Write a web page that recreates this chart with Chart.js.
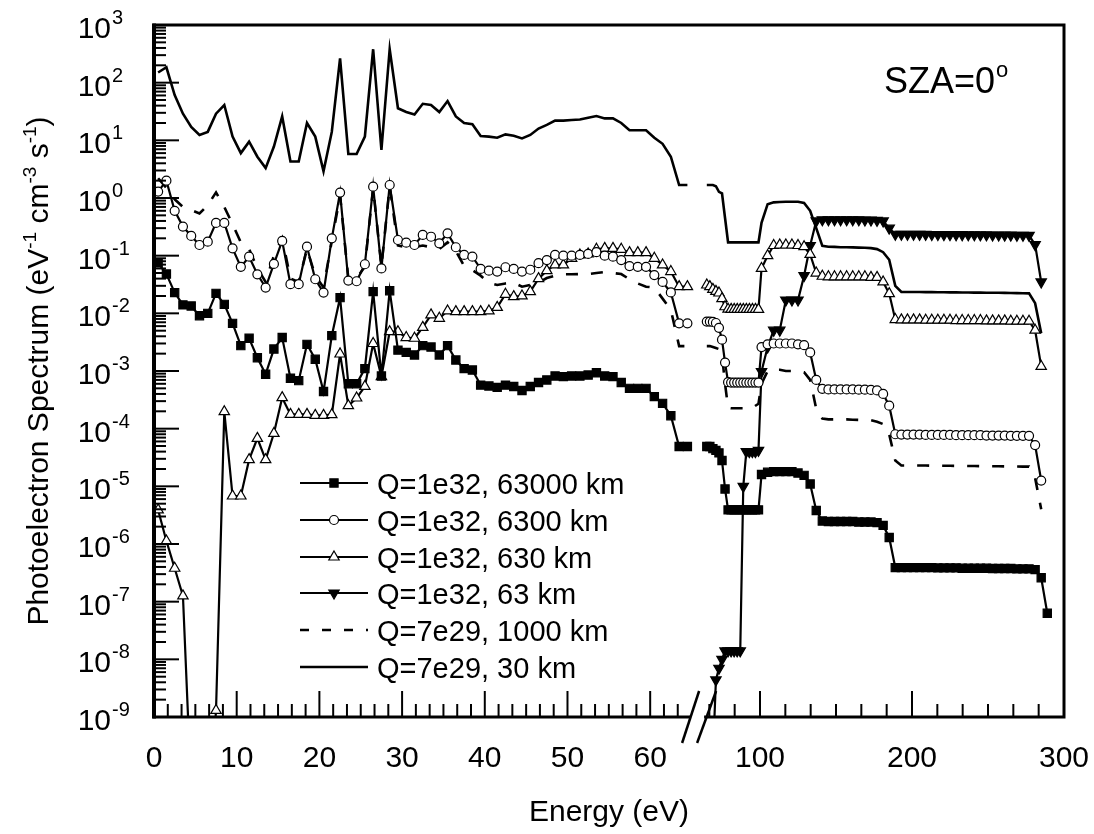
<!DOCTYPE html>
<html><head><meta charset="utf-8">
<script src="https://cdn.jsdelivr.net/npm/chart.js@4/dist/chart.umd.min.js"></script>
<style>html,body{margin:0;padding:0;background:#fff}canvas{display:block}</style>
</head><body>
<canvas id="c" width="1094" height="834"></canvas>
<script>
// ---------- DATA ----------
const seriesLabels = ['Q=1e32, 63000 km','Q=1e32, 6300 km','Q=1e32, 630 km','Q=1e32, 63 km','Q=7e29, 1000 km','Q=7e29, 30 km'];
const xTickLabels = [0,10,20,30,40,50,60,100,200,300];
const yTickExponents = [3,2,1,0,-1,-2,-3,-4,-5,-6,-7,-8,-9];

// energy grids (eV)
const energyLow = [0.5,1.5,2.5,3.5,4.5,5.5,6.5,7.5,8.5,9.5,10.5,11.5,12.5,13.5,14.5,15.5,16.5,17.5,18.5,19.5,
 20.5,21.5,22.5,23.5,24.5,25.5,26.5,27.5,28.5,29.5,30.5,31.5,32.5,33.5,34.5,35.5,36.5,37.5,38.5,39.5,
 40.5,41.5,42.5,43.5,44.5,45.5,46.5,47.5,48.5,49.5,50.5,51.5,52.5,53.5,54.5,55.5,56.5,57.5,58.5,59.5,
 60.5,61.5,62.5,63.5,64.5];
const energyMid = [65,67,69,71,73,75,77,79,81,83,85,87,89,91,93,95,97,99];
const energyHigh = [101,105,109,113,117,121,125,129,133,137,141,145,149,153,157,161,165,169,173,177,181,185,189,
 193,197,201,205,209,213,217,221,225,229,233,237,241,245,249,253,257,261,265,269,273,277,281,285,289];

// Q=1e32, 63000 km (filled squares)
const sq63000Low = [0.075,0.048,0.0229,0.014,0.0134,0.0091,0.01,0.0222,0.0143,0.0067,
 0.00275,0.0037,0.0017,0.00088,0.0024,0.0038,0.00075,0.00068,0.0029,0.0016,
 0.00044,0.0041,0.0187,0.0006,0.0006,0.0011,0.0238,0.00082,0.0247,0.0023,
 0.0021,0.0019,0.00275,0.0026,0.0019,0.00275,0.00155,0.0011,0.00104,0.00057,
 0.00055,0.00052,0.00057,0.00054,0.00046,0.00054,0.00063,0.0007,0.00082,0.0008,
 0.00082,0.00082,0.00085,0.00093,0.00082,0.0008,0.00063,0.0005,0.0005,0.0005,
 0.00036,0.000275,0.000168,0.000049,0.000049];
const sq63000Mid = [4.9e-5,4.9e-5,4.5e-5,4.2e-5,3.8e-5,2.8e-5,9e-6,3.9e-6,3.9e-6,3.9e-6,3.9e-6,3.9e-6,3.9e-6,3.9e-6,3.9e-6,3.9e-6,3.9e-6,3.9e-6];
const sq63000High = [1.6e-5,1.75e-5,1.8e-5,1.8e-5,1.8e-5,1.8e-5,1.7e-5,1.55e-5,1.1e-5,3.8e-6,2.5e-6,2.45e-6,2.45e-6,2.45e-6,2.45e-6,2.45e-6,2.4e-6,2.4e-6,2.4e-6,2.35e-6,2.1e-6,1.3e-6,3.9e-7,
 3.9e-7,3.9e-7,3.9e-7,3.9e-7,3.9e-7,3.9e-7,3.85e-7,3.85e-7,3.85e-7,3.85e-7,3.8e-7,3.8e-7,3.8e-7,3.8e-7,3.8e-7,3.75e-7,3.75e-7,3.75e-7,3.75e-7,3.7e-7,3.7e-7,3.7e-7,3.6e-7,2.6e-7,6.3e-8];

// Q=1e32, 6300 km (open circles)
const ci6300Low = [1.29,2.0,0.6,0.32,0.22,0.153,0.175,0.37,0.37,0.134,
 0.064,0.096,0.0475,0.028,0.072,0.18,0.032,0.032,0.143,0.039,
 0.0229,0.2,1.24,0.037,0.036,0.071,1.57,0.06,1.68,0.187,
 0.168,0.153,0.229,0.213,0.164,0.244,0.14,0.103,0.096,0.059,
 0.055,0.053,0.063,0.059,0.053,0.057,0.074,0.084,0.103,0.1,
 0.1,0.103,0.107,0.115,0.1,0.096,0.084,0.066,0.064,0.064,
 0.046,0.035,0.023,0.0067,0.0067];
const ci6300Mid = [0.0072,0.0072,0.0071,0.0068,0.0056,0.0035,0.0014,0.00064,0.00063,0.00063,0.00063,0.00063,0.00063,0.00063,0.00063,0.00063,0.00063,0.00063];
const ci6300High = [0.0026,0.0029,0.003,0.003,0.003,0.003,0.0029,0.0028,0.0021,0.0007,0.00049,0.00048,0.00048,0.00048,0.00048,0.00048,0.000475,0.000475,0.00047,0.00046,0.0004,0.00025,0.00008,
 7.9e-5,7.9e-5,7.9e-5,7.9e-5,7.8e-5,7.8e-5,7.8e-5,7.8e-5,7.8e-5,7.7e-5,7.7e-5,7.7e-5,7.7e-5,7.7e-5,7.6e-5,7.6e-5,7.6e-5,7.6e-5,7.5e-5,7.5e-5,7.5e-5,7.5e-5,5.2e-5,1.26e-5];

// Q=1e32, 630 km (open triangles)
const tr630Low = [3.9e-6,1.13e-6,3.8e-7,1.26e-7,5e-11,1e-12,1e-11,1.3e-9,1.97e-4,6.8e-6,
 6.8e-6,2.9e-5,6.8e-5,2.9e-5,8.3e-5,3.45e-4,1.77e-4,1.77e-4,1.77e-4,1.7e-4,
 1.7e-4,1.75e-4,0.00197,2.5e-4,3.4e-4,5.4e-4,0.003,8.0e-4,0.0048,0.0048,
 0.0038,0.0037,0.0057,0.0094,0.0082,0.011,0.0107,0.0107,0.0107,0.0107,
 0.011,0.0127,0.0214,0.0195,0.02,0.0238,0.04,0.055,0.069,0.069,
 0.09,0.103,0.107,0.129,0.134,0.134,0.129,0.113,0.113,0.113,
 0.09,0.069,0.053,0.029,0.029];
const tr630Mid = [0.031,0.029,0.026,0.024,0.0225,0.018,0.013,0.0118,0.0117,0.0117,0.0117,0.0117,0.0117,0.0117,0.0117,0.0117,0.0117,0.0117];
const tr630High = [0.06,0.1,0.15,0.153,0.153,0.153,0.15,0.143,0.105,0.05,0.044,0.043,0.043,0.043,0.043,0.043,0.043,0.043,0.042,0.042,0.035,0.022,0.0078,
 0.0077,0.0077,0.0077,0.0077,0.0076,0.0076,0.0076,0.0076,0.0076,0.0075,0.0075,0.0075,0.0075,0.0075,0.0074,0.0074,0.0074,0.0074,0.0073,0.0073,0.0073,0.0073,0.0051,0.0012];

// Q=1e32, 63 km (filled inverted triangles)
const td63Mid = [null,1e-11,2e-10,4.4e-9,7e-9,1e-8,1.4e-8,1.4e-8,1.4e-8,1.4e-8,1.4e-8,1.4e-8,1e-5,4e-5,4e-5,4e-5,4e-5,4.2e-5];
const td63High = [9.8e-4,0.0026,0.0051,0.0051,0.017,0.017,0.017,0.045,0.15,0.4,0.42,0.42,0.42,0.42,0.42,0.42,0.42,0.415,0.415,0.41,0.4,0.3,0.235,
 0.235,0.235,0.235,0.234,0.234,0.233,0.233,0.232,0.232,0.231,0.231,0.23,0.23,0.229,0.229,0.228,0.228,0.227,0.227,0.226,0.226,0.225,0.155,0.035];

// Q=7e29, 1000 km (dashed)
const da1000Low = [2.2,1.5,0.95,0.7,0.62,0.54,0.75,1.25,0.7,0.35,
 0.17,0.13,0.06,0.035,0.1,0.2,0.04,0.035,0.13,0.045,
 0.028,0.18,1.1,0.04,0.04,0.065,1.5,0.065,1.6,0.15,
 0.14,0.14,0.15,0.14,0.13,0.17,0.12,0.066,0.056,0.045,
 0.034,0.031,0.033,0.034,0.029,0.031,0.034,0.041,0.045,0.0475,
 0.0475,0.048,0.048,0.05,0.052,0.05,0.048,0.039,0.033,0.029,
 0.028,0.018,0.0115,0.0027,0.0027];
const da1000Mid = [0.0027,0.0027,0.0026,0.0025,0.0024,0.0019,0.0006,0.00023,0.000226,0.000226,0.000226,0.000226,0.000226,0.000226,0.000226,0.00023,0.00025,0.00027];
const da1000High = [0.0006,0.001,0.00105,0.00105,0.001,0.001,0.00098,0.00095,0.0007,0.00022,0.00015,0.000145,0.000145,0.000145,0.000145,0.000143,0.000142,0.000141,0.00014,0.000132,0.00012,0.00008,0.000028,
 2.3e-5,2.3e-5,2.3e-5,2.3e-5,2.3e-5,2.28e-5,2.28e-5,2.27e-5,2.27e-5,2.26e-5,2.26e-5,2.25e-5,2.25e-5,2.24e-5,2.24e-5,2.23e-5,2.23e-5,2.22e-5,2.22e-5,2.21e-5,2.2e-5,2.2e-5,1.4e-5,4e-6];

// Q=7e29, 30 km (solid)
const so30Low = [150,185,61,29,17,12.4,14,29,41,11.6,
 6.0,9.5,5.2,3.3,7.8,26,4.3,4.3,20,11.6,
 2.9,14,264,5.8,5.8,11.6,380,6.8,380,36,
 31,28,43,41,31,48,26,20,19,11.9,
 11.6,11.1,12.7,12,10.8,12.4,16,18.5,22,22,
 22.5,23,24.7,26.4,24,24,20,15,15,15,
 11.1,8.7,5.2,1.68,1.68];
const so30Mid = [1.68,1.68,1.68,1.6,1.28,1.2,0.45,0.17,0.17,0.17,0.17,0.17,0.17,0.17,0.17,0.17,0.17,0.17];
const so30High = [0.37,0.78,0.84,0.85,0.86,0.86,0.86,0.82,0.6,0.3,0.148,0.143,0.142,0.14,0.14,0.139,0.138,0.137,0.135,0.13,0.115,0.085,0.03,
 0.0235,0.0235,0.0234,0.0234,0.0233,0.0233,0.0232,0.0232,0.0231,0.0231,0.023,0.023,0.0229,0.0229,0.0228,0.0228,0.0227,0.0226,0.0225,0.0224,0.0223,0.0222,0.015,0.0045];

// ---------- broken x axis mapping ----------
const BREAK_E = 65, BREAK_GAP = 1.847, RIGHT_RATIO = 0.1838;
const axisLeft = e => e;
const axisRight = e => BREAK_E + BREAK_GAP + (e - BREAK_E) * RIGHT_RATIO;
const X_MAX = axisRight(300);

function buildPoints(low, mid, high) {
  const pts = [];
  if (low) energyLow.forEach((e, i) => pts.push({x: axisLeft(e), y: low[i]}));
  pts.push({x: (axisLeft(64.5) + axisRight(65)) / 2, y: null});
  energyMid.forEach((e, i) => pts.push({x: axisRight(e), y: mid[i]}));
  energyHigh.forEach((e, i) => pts.push({x: axisRight(e), y: high[i]}));
  return pts;
}

const styles = [
  {pointStyle:'rect', radius:5.8, rotation:0, fill:'#000', dash:[], lw:2.2},
  {pointStyle:'circle', radius:4.5, rotation:0, fill:'#fff', dash:[], lw:2.2},
  {pointStyle:'triangle', radius:6, rotation:0, fill:'#fff', dash:[], lw:2.2},
  {pointStyle:'triangle', radius:6, rotation:180, fill:'#000', dash:[], lw:2.2},
  {pointStyle:false, radius:0, rotation:0, fill:'#000', dash:[12,13], lw:2.6},
  {pointStyle:false, radius:0, rotation:0, fill:'#000', dash:[], lw:2.6}
];
const seriesData = [
  buildPoints(sq63000Low, sq63000Mid, sq63000High),
  buildPoints(ci6300Low, ci6300Mid, ci6300High),
  buildPoints(tr630Low, tr630Mid, tr630High),
  buildPoints(null, td63Mid, td63High),
  buildPoints(da1000Low, da1000Mid, da1000High),
  buildPoints(so30Low, so30Mid, so30High)
];

const datasets = seriesData.map((d, i) => ({
  label: seriesLabels[i],
  data: d,
  borderColor: '#000',
  borderWidth: styles[i].lw,
  borderDash: styles[i].dash,
  pointStyle: styles[i].pointStyle || 'circle',
  pointRadius: styles[i].radius,
  pointRotation: styles[i].rotation,
  pointBackgroundColor: styles[i].fill,
  pointBorderColor: '#000',
  pointBorderWidth: 1.2,
  fill: false,
  tension: 0,
  spanGaps: false
}));

const FONT = '"Liberation Sans", Arial, Helvetica, sans-serif';

function supText(ctx, x, y, parts, mainSize, supSize, rise) {
  let cx = x;
  for (const [t, sup] of parts) {
    ctx.font = (sup ? supSize : mainSize) + 'px ' + FONT;
    ctx.fillText(t, cx, sup ? y - rise : y);
    cx += ctx.measureText(t).width;
  }
  return cx;
}
function supWidth(ctx, parts, mainSize, supSize) {
  let w = 0;
  for (const [t, sup] of parts) { ctx.font = (sup ? supSize : mainSize) + 'px ' + FONT; w += ctx.measureText(t).width; }
  return w;
}

const decorations = {
  id: 'decorations',
  afterDraw(chart) {
    const ctx = chart.ctx, a = chart.chartArea;
    const xs = chart.scales.x, ys = chart.scales.y;
    ctx.save();
    ctx.strokeStyle = '#000'; ctx.fillStyle = '#000'; ctx.setLineDash([]);
    ctx.lineCap = 'butt';

    // x ticks (inward)
    ctx.lineWidth = 2;
    const xTick = (u, len) => { const px = xs.getPixelForValue(u); ctx.beginPath(); ctx.moveTo(px, a.bottom); ctx.lineTo(px, a.bottom - len); ctx.stroke(); };
    for (let k = 1; k <= 38; k++) { if (k % 6) xTick(axisLeft(k * 10 / 6), 13); }
    for (let k = -2; k <= 12; k++) { if (k % 6) xTick(axisRight(100 + k * 100 / 6), 13); }
    xTickLabels.forEach(v => xTick(v <= 60 ? axisLeft(v) : axisRight(v), 26));

    // y ticks (inward)
    for (let d = -9; d < 3; d++) {
      for (let m = 2; m <= 9; m++) {
        const py = ys.getPixelForValue(m * Math.pow(10, d));
        ctx.beginPath(); ctx.moveTo(a.left, py); ctx.lineTo(a.left + 12, py); ctx.stroke();
      }
    }
    yTickExponents.forEach(e => {
      const py = ys.getPixelForValue(Math.pow(10, e));
      ctx.beginPath(); ctx.moveTo(a.left, py); ctx.lineTo(a.left + 25, py); ctx.stroke();
    });

    // frame
    ctx.lineWidth = 3;
    ctx.strokeRect(a.left, a.top, a.right - a.left, a.bottom - a.top);
    ctx.lineWidth = 4;
    ctx.beginPath(); ctx.moveTo(a.left, a.top - 1.5); ctx.lineTo(a.left, a.bottom + 1.5); ctx.stroke();

    // axis break
    const bx = (xs.getPixelForValue(axisLeft(64.5)) + xs.getPixelForValue(axisRight(65))) / 2;
    ctx.fillStyle = '#fff';
    ctx.fillRect(bx - 7, a.bottom - 3, 14, 6);
    ctx.fillStyle = '#000';
    ctx.lineWidth = 2.5;
    ctx.beginPath(); ctx.moveTo(bx - 15, a.bottom + 26); ctx.lineTo(bx + 2, a.bottom - 26); ctx.stroke();
    ctx.beginPath(); ctx.moveTo(bx + 0, a.bottom + 26); ctx.lineTo(bx + 19, a.bottom - 26); ctx.stroke();

    // x tick labels
    ctx.font = '30px ' + FONT; ctx.textAlign = 'center'; ctx.textBaseline = 'alphabetic';
    xTickLabels.forEach(v => {
      const px = xs.getPixelForValue(v <= 60 ? axisLeft(v) : axisRight(v));
      ctx.fillText(String(v), px, 767);
    });

    // y tick labels
    yTickExponents.forEach(e => {
      const py = ys.getPixelForValue(Math.pow(10, e));
      ctx.font = '30px ' + FONT; ctx.textAlign = 'right';
      ctx.fillText('10', 111, py + 13);
      ctx.textAlign = 'left';
      ctx.font = '20px ' + FONT;
      ctx.fillText(e < 0 ? '-' + (-e) : String(e), 112, py - 1);
    });

    // axis titles
    ctx.textAlign = 'left';
    ctx.font = '30px ' + FONT;
    const xt = 'Energy (eV)';
    const xtw = ctx.measureText(xt).width;
    ctx.fillText(xt, (a.left + a.right) / 2 - xtw / 2, 821);

    const yParts = [['Photoelectron Spectrum (eV', false], ['-1', true], [' cm', false], ['-3', true], [' s', false], ['-1', true], [')', false]];
    const yw = supWidth(ctx, yParts, 30, 19);
    ctx.save();
    ctx.translate(48, (a.top + a.bottom) / 2);
    ctx.rotate(-Math.PI / 2);
    supText(ctx, -yw / 2, 0, yParts, 30, 19, 12);
    ctx.restore();

    // SZA annotation
    ctx.textAlign = 'left';
    const sEnd = supText(ctx, 884, 93, [['SZA=0', false]], 36, 18, 0);
    ctx.font = '22px ' + FONT; ctx.fillText('o', sEnd + 1, 77);

    // legend
    const rowsY = [483, 520, 557, 593, 630, 667];
    rowsY.forEach((ry, i) => {
      const st = styles[i];
      ctx.strokeStyle = '#000';
      ctx.lineWidth = st.lw; ctx.setLineDash(i === 4 ? [9, 13] : []);
      ctx.beginPath(); ctx.moveTo(300, ry); ctx.lineTo(368, ry); ctx.stroke();
      ctx.setLineDash([]);
      if (st.pointStyle) {
        ctx.fillStyle = st.fill; ctx.lineWidth = 1.2;
        Chart.helpers.drawPoint(ctx, {pointStyle: st.pointStyle, radius: st.radius, rotation: st.rotation, borderWidth: 1.2}, 334, ry);
      }
      ctx.fillStyle = '#000';
      ctx.font = '29px ' + FONT; ctx.textAlign = 'left';
      ctx.fillText(seriesLabels[i], 377, ry + 10.5);
    });
    ctx.restore();
  }
};

new Chart(document.getElementById('c').getContext('2d'), {
  type: 'line',
  data: {datasets},
  options: {
    responsive: false, animation: false, devicePixelRatio: 1,
    layout: {padding: {left: 154, right: 30, top: 25, bottom: 117}},
    scales: {
      x: {type: 'linear', min: 0, max: X_MAX, display: false},
      y: {type: 'logarithmic', min: 1e-9, max: 1e3, display: false}
    },
    plugins: {legend: {display: false}, tooltip: {enabled: false}}
  },
  plugins: [decorations]
});
</script>
</body></html>
